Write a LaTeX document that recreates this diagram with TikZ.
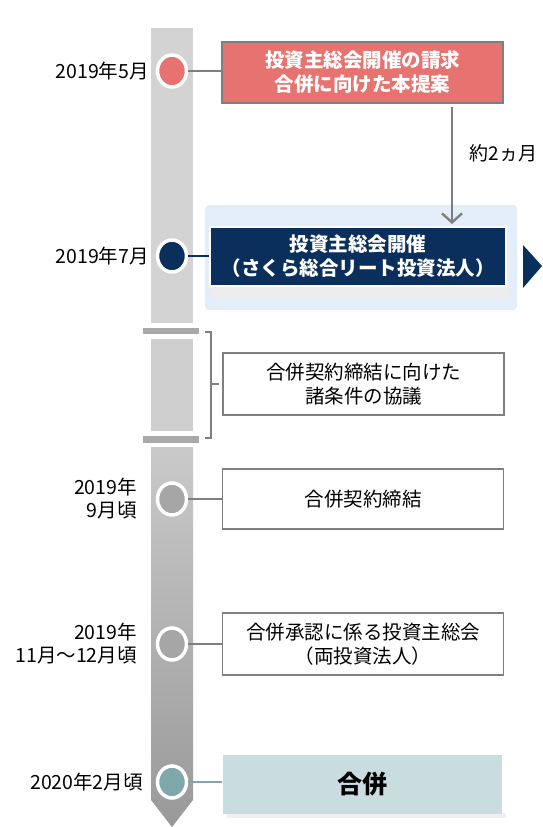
\documentclass[tikz,border=0pt]{standalone}
\usepackage{fontspec}
\setmainfont{Noto Sans CJK JP}
\usetikzlibrary{arrows.meta,shapes.geometric}
\definecolor{barlight}{HTML}{D3D3D3}
\definecolor{barmid}{HTML}{CFCFCF}
\definecolor{sepgray}{HTML}{A9A9A9}
\definecolor{redbox}{HTML}{E6736F}
\definecolor{navy}{HTML}{0B2F5C}
\definecolor{bordergray}{HTML}{7F7F7F}
\definecolor{dotgray}{HTML}{A6A6A6}
\definecolor{teal}{HTML}{7FA8AA}
\definecolor{tealbox}{HTML}{C9DCDF}
\definecolor{glow}{HTML}{E4EEFA}
\tikzset{
  box/.style={draw=bordergray, line width=1.6pt, minimum width=281pt, align=center,
    inner sep=0pt, font=\fontsize{19.5}{24}\selectfont},
  dateleft/.style={anchor=east, align=right, inner sep=0pt, font=\fontsize{19.5}{23}\selectfont},
  ring/.style={ellipse, draw=white, line width=3.5pt, minimum width=29pt, minimum height=32pt, inner sep=0pt},
  conn/.style={draw=bordergray, line width=1.5pt},
}
\begin{document}
\begin{tikzpicture}[x=1pt,y=-1pt]
\useasboundingbox (0,0) rectangle (542,827);
\clip (0,0) rectangle (542,827);
% timeline bar
\fill[barlight] (151,28) rectangle (193,323);
\fill[sepgray] (143,328) rectangle (199,334);
\fill[barmid] (151,339) rectangle (193,431);
\fill[sepgray] (143,436) rectangle (199,443);
\shade[top color=white!79!black, bottom color=white!60!black]
  (151,447) -- (193,447) -- (193,800) -- (172,827) -- (151,800) -- cycle;
% bracket
\draw[bordergray, line width=1.4pt] (205,332) -- (211,332) -- (211,438) -- (205,438);
\draw[bordergray, line width=1.4pt] (211,384) -- (219,384);

% glow behind navy box
\fill[glow, rounded corners=4pt] (205,205) rectangle (517,310);
\fill[gray!14] (212,286) rectangle (509,297);
\fill[gray!12] (227,813) rectangle (506,818);

% circles
\node[ring, fill=redbox] (c1) at (172,71) {};
\node[ring, fill=navy] (c2) at (172,256) {};
\node[ring, fill=dotgray] (c3) at (172,499) {};
\node[ring, fill=dotgray] (c4) at (172,644) {};
\node[ring, fill=teal] (c5) at (172,782) {};

% dates
\node[dateleft] (d1) at (149,71) {2019年5月};
\node[dateleft] (d2) at (149,256) {2019年7月};
\node[dateleft] (d3) at (137,499) {2019年\\9月頃};
\node[dateleft] (d4) at (137,644) {2019年\\11月～12月頃};
\node[dateleft] (d5) at (143,782) {2020年2月頃};

% boxes
\node[box, fill=redbox, text=white, minimum height=61pt, font=\fontsize{19.5}{24}\selectfont\bfseries] (b1) at (362.5,72.5) {投資主総会開催の請求\\合併に向けた本提案};
\node[box, draw=white, line width=1.2pt, fill=navy, text=white, minimum width=296pt, minimum height=59pt, font=\fontsize{19.5}{24}\selectfont\bfseries] (b2) at (358,256.5) {投資主総会開催\\（さくら総合リート投資法人）};
\node[box, fill=white, minimum height=62pt] (b3) at (363.5,384) {合併契約締結に向けた\\諸条件の協議};
\node[box, fill=white, minimum height=60pt] (b4) at (363,499) {合併契約締結};
\node[box, fill=white, minimum height=62pt] (b5) at (363,644) {合併承認に係る投資主総会\\（両投資法人）};
\node[box, draw=none, fill=tealbox, minimum width=279pt, minimum height=59pt, font=\fontsize{25}{28}\selectfont\bfseries] (b6) at (362.5,784.5) {合併};

% connectors
\draw[conn] (c1.east) -- (b1.west |- c1.east);
\draw[conn, draw=navy] (c2.east) -- (b2.west |- c2.east);
\draw[conn] (c3.east) -- (b4.west |- c3.east);
\draw[conn] (c4.east) -- (b5.west |- c4.east);
\draw[conn, draw=teal] (c5.east) -- (b6.west |- c5.east);

% arrow between first two boxes
\coordinate (a1) at (452,107);
\coordinate (a2) at (452,224);
\draw[bordergray, line width=2.4pt, -{Straight Barb[length=9pt,width=20pt]}] (a1) -- (a2);
\node[anchor=west, font=\fontsize{19}{22}\selectfont] (lab) at (466,153) {約2ヵ月};

% navy triangle
\fill[navy] (523,245) -- (542,266) -- (523,288) -- cycle;
\end{tikzpicture}
\end{document}
